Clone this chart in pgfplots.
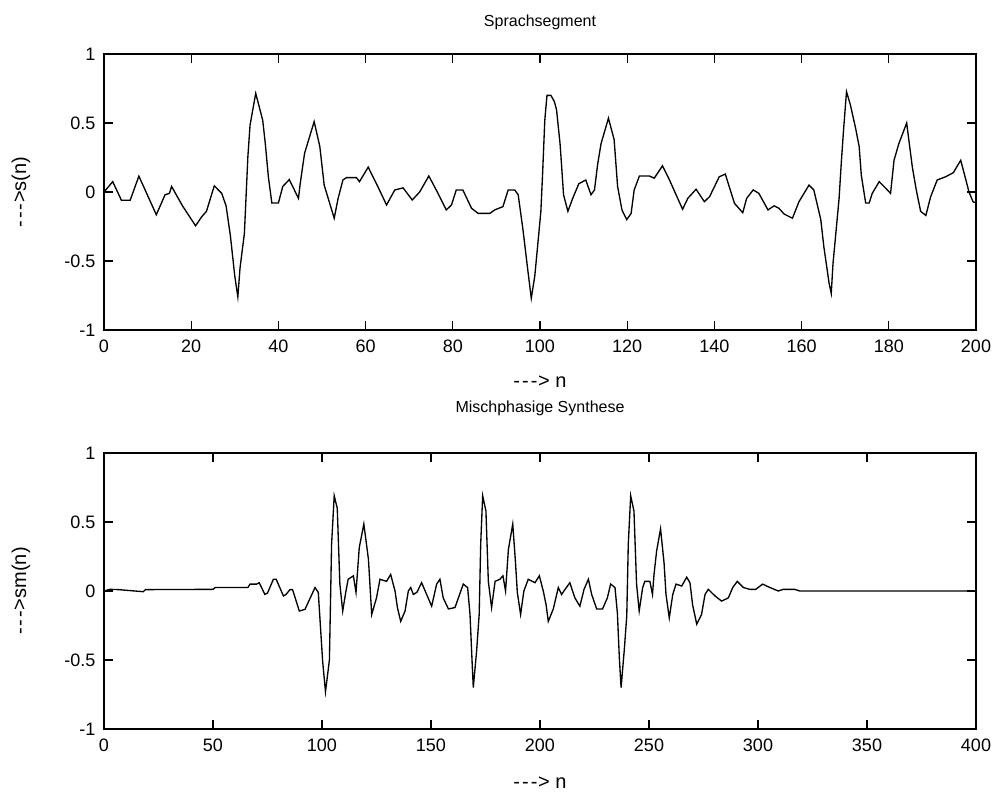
\documentclass[border=0pt]{standalone}
\usepackage{fontspec}
\setmainfont{Liberation Sans}
\usepackage{pgfplots}
\pgfplotsset{compat=1.18}
\usetikzlibrary{calc}
\newcommand{\fsz}{\fontsize{13.5}{15}\selectfont}
\newcommand{\lsz}{\fontsize{15}{17}\selectfont}
\newcommand{\tsz}{\fontsize{12}{14}\selectfont}
\newcommand{\arr}{-\kern1.5pt-\kern1.5pt-\kern0.5pt>}
\begin{document}
\begin{tikzpicture}[x=1pt,y=1pt]
\useasboundingbox (-78pt,-349.5pt) rectangle (669.75pt,247.5pt);
\pgfplotsset{every axis/.append style={
  scale only axis, width=654pt, height=207pt,
  tick align=inside, major tick length=6.5pt,
  axis line style={line width=0.9pt},
  every tick/.style={black, line width=0.9pt},
  tick label style={font=\fsz},
  label style={font=\lsz},
  title style={font=\tsz},
  ymin=-1, ymax=1,
  ytick={-1,-0.5,0,0.5,1},
  yticklabels={-1,-0.5,0,0.5,1},
  xticklabel style={yshift=-4pt},
  yticklabel style={xshift=-3pt},
  ylabel style={at={(axis description cs:-0.0894,0.5)}, anchor=base},
}}
\begin{axis}[name=top, at={(0pt,0pt)}, anchor=south west,
  xmin=0, xmax=200,
  xtick={0,20,...,200},
  xticklabels={0,20,40,60,80,100,120,140,160,180,200},
  title={Sprachsegment},
  title style={at={(axis description cs:0.5,1.098)}, anchor=base, yshift=-6pt},
  xlabel={\arr\ n},
  xlabel style={at={(axis description cs:0.5,-0.21)}, anchor=base},
  ylabel={\arr s(n)},
]
\addplot[black, line width=1pt] coordinates {
(0,0) (2,0.075) (4,-0.06) (6,-0.06) (8,0.115) (12,-0.165) (14,-0.02) (15,-0.01) (15.5,0.04)
(18,-0.1) (21,-0.245) (22.4,-0.18) (23.5,-0.14) (25.3,0.045) (27,-0.01) (28,-0.1) (29,-0.32)
(30,-0.61) (30.7,-0.76) (31.2,-0.55) (32.2,-0.3) (33,0.256) (33.5,0.485) (34.8,0.715) (36.4,0.52)
(37,0.35) (37.7,0.11) (38.5,-0.08) (40,-0.08) (41,0.04) (42.5,0.09) (44.6,-0.046) (45,0.06)
(46,0.28) (48.2,0.51) (49.5,0.33) (50.5,0.05) (52.8,-0.19) (53.7,-0.046) (54.8,0.087) (55.6,0.104)
(57.9,0.104) (58.6,0.075) (60.6,0.18) (62.8,0.04) (64.8,-0.094) (66.7,0.015) (68.6,0.03)
(70.7,-0.058) (72.4,0.0) (74.5,0.116) (76.2,0.015) (78.5,-0.13) (79.7,-0.094) (80.8,0.015)
(82.3,0.015) (84.3,-0.118) (85.8,-0.155) (88.5,-0.155) (89.6,-0.13) (91.5,-0.106) (92.7,0.015)
(94.2,0.015) (95,-0.02) (96.1,-0.275) (97.2,-0.565) (98,-0.77) (98.8,-0.61) (99.7,-0.31)
(100.2,-0.14) (100.6,0.135) (101.1,0.52) (101.6,0.70) (102.5,0.70) (103.3,0.655) (103.8,0.595)
(104.6,0.35) (105,0.17) (105.4,-0.02) (106.4,-0.14) (107.5,-0.046) (108.9,0.06) (110.5,0.087)
(111.7,-0.02) (112.5,0.015) (113.2,0.196) (114,0.35) (115.7,0.535) (117,0.38) (117.8,0.04)
(118.8,-0.13) (119.9,-0.2) (120.9,-0.155) (121.6,0.015) (122.8,0.116) (125.1,0.116) (126.2,0.1)
(128.1,0.19) (129.7,0.087) (132.7,-0.125) (133.9,-0.046) (135.8,0.02) (137.7,-0.07) (138.9,-0.034)
(141.1,0.11) (142.5,0.13) (144.6,-0.082) (146.5,-0.15) (147.4,-0.046) (148.9,0.015) (150.2,-0.01)
(152.3,-0.13) (153.7,-0.1) (154.8,-0.118) (156,-0.16) (157.9,-0.19) (159.4,-0.07) (161.7,0.05)
(162.8,0.015) (164.4,-0.2) (165.1,-0.396) (166.3,-0.66) (166.8,-0.735) (167.2,-0.52) (168,-0.25)
(168.6,-0.046) (169.1,0.21) (169.6,0.44) (170.3,0.727) (171.2,0.63) (172.4,0.46) (173.2,0.33)
(173.7,0.12) (174.7,-0.08) (175.5,-0.08) (176.2,-0.01) (177.8,0.075) (179.3,0.027) (180.4,-0.01)
(181.2,0.23) (182.3,0.35) (184.1,0.5) (185.4,0.18) (186.3,0.015) (187.3,-0.14) (188.5,-0.17)
(189.6,-0.034) (191.1,0.087) (193,0.11) (194.8,0.14) (196.5,0.23) (198.4,0.0) (199.3,-0.07) (200,-0.08)
};
\end{axis}
\begin{axis}[at={($(top.south west)+(0pt,-92.25pt)$)}, anchor=north west,
  xmin=0, xmax=400,
  xtick={0,50,...,400},
  xticklabels={0,50,100,150,200,250,300,350,400},
  title={Mischphasige Synthese},
  title style={at={(axis description cs:0.5,1.145)}, anchor=base, yshift=-6pt},
  xlabel={\arr\ n},
  xlabel style={at={(axis description cs:0.5,-0.217)}, anchor=base},
  ylabel={\arr sm(n)},
]
\addplot[black, line width=1pt] coordinates {
(0,0.0) (2.8,0.012) (6.6,0.01) (18,-0.005) (19,0.01) (50,0.012) (51,0.025) (66,0.025) (67,0.05)
(70,0.05) (71.2,0.06) (73.8,-0.025) (75,-0.015) (77.7,0.085) (79,0.085) (82.3,-0.036) (83.5,-0.025)
(85.3,0.01) (86.5,0.01) (89.6,-0.145) (92.2,-0.133) (96.8,0.025) (98.3,-0.01) (100.3,-0.51)
(101.6,-0.73) (103.4,-0.5) (104.4,0.34) (105.6,0.69) (107,0.6) (108.2,0.05) (109.5,-0.145) (111,0.0)
(112,0.085) (114.4,0.11) (115.6,-0.01) (117.1,0.315) (119.2,0.485) (121.3,0.23) (122.8,-0.17)
(125,-0.05) (126.6,0.085) (129.6,0.07) (131.5,0.12) (133.5,0.0) (134.6,-0.12) (136.1,-0.22)
(138.1,-0.145) (139.6,0.0) (140.7,0.025) (141.9,-0.025) (143.5,-0.01) (145.7,0.06) (148,-0.025)
(150.3,-0.11) (152.6,0.05) (154.1,0.085) (155.6,-0.05) (158,-0.13) (161,-0.12) (164.8,0.05)
(166.8,0.025) (167.9,-0.17) (168.9,-0.53) (169.4,-0.70) (170.9,-0.44) (172.1,-0.17) (172.8,0.34)
(173.7,0.69) (175.2,0.58) (176.3,0.07) (177.8,-0.12) (179.4,0.07) (181.6,0.085) (183,0.11) (184.2,0.0)
(185.5,0.3) (187.5,0.485) (188.7,0.22) (189.6,-0.01) (191.1,-0.17) (192.6,0) (194.6,0.085)
(197.7,0.06) (199.7,0.11) (201.5,0) (202.8,-0.1) (203.8,-0.22) (206.1,-0.13) (208.4,0.025)
(209.9,-0.025) (211.5,0.012) (213.7,0.06) (216,-0.05) (218.3,-0.11) (220.2,0.012) (222.2,0.085)
(223.7,-0.025) (226,-0.13) (228.7,-0.13) (230.9,-0.05) (232.4,0.05) (234.4,0.025) (235.5,-0.16)
(236.4,-0.485) (237.2,-0.70) (238.7,-0.42) (239.8,-0.18) (240.5,0.34) (241.6,0.69) (243.1,0.58)
(244.3,0.05) (245.5,-0.145) (247.1,0.025) (248.1,0.07) (250.4,0.07) (251.6,-0.025) (252.3,0.12)
(253.5,0.29) (255.3,0.45) (256.9,0.205) (257.8,-0.025) (259.3,-0.195) (260.9,-0.025) (262.4,0.05)
(265,0.036) (267.3,0.1) (268.8,0.06) (270,-0.1) (271.9,-0.24) (274.1,-0.17) (275.7,-0.025)
(277.2,0.012) (280.3,-0.036) (283.3,-0.073) (286.4,-0.05) (288.4,0.025) (290.5,0.07) (293.3,0.025)
(296.3,0.012) (299,0.012) (302.1,0.05) (305.5,0.025) (309.3,0) (311.6,0.012) (316.9,0.012)
(319.2,0) (400,0)
};
\end{axis}
\end{tikzpicture}
\end{document}
